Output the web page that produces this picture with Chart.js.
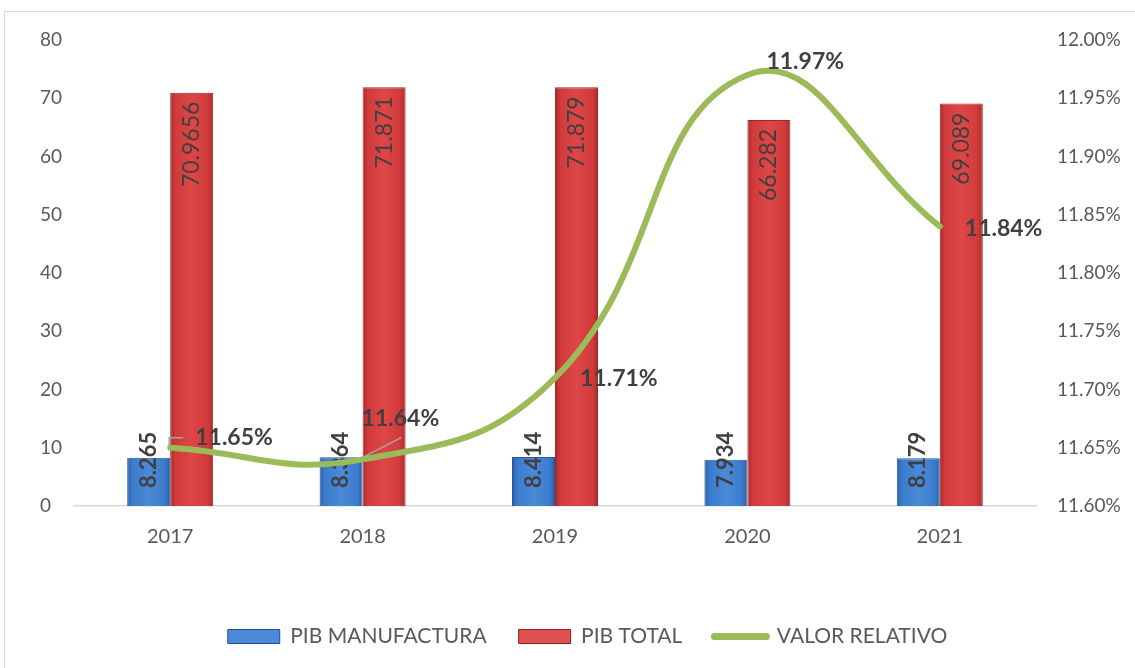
<!DOCTYPE html>
<html>
<head>
<meta charset="utf-8">
<script src="https://cdn.jsdelivr.net/npm/chart.js@4.4.0/dist/chart.umd.min.js"></script>
<style>
  html, body { margin: 0; padding: 0; background: #fff; }
  #frame { position: absolute; left: 4px; top: 11px; width: 1140px; height: 670px; border: 1px solid #d9d9d9; }
  #wrap { position: absolute; left: 0; top: 0; width: 1135px; height: 668px; }
</style>
</head>
<body>
<div id="frame"></div>
<div id="wrap"><canvas id="chart"></canvas></div>
<script>
// Data
const years = ['2017', '2018', '2019', '2020', '2021'];
const pibManufactura = [8.265, 8.364, 8.414, 7.934, 8.179];
const pibTotal = [70.9656, 71.871, 71.879, 66.282, 69.089];
const valorRelativo = [11.65, 11.64, 11.71, 11.97, 11.84];
const seriesNames = ['PIB MANUFACTURA', 'PIB TOTAL', 'VALOR RELATIVO'];

const FONT = 'Lato, "Noto Sans", sans-serif';
const TEXT = '#595959';
const LABEL = '#404040';

// label offsets for the percentage labels (relative to the point)
const lineLabelOffsets = [[25, -10], [-1, -41], [25, 1], [19, -13], [25, 2]];
const leaderLines = { 0: [[-1, -2], [-1, -10], [13, -10]], 1: [[0, -2], [39, -22]] };

// two bars side by side, no gap between them
const CAT_PCT = 0.447;
const BAR_PCT = 1.0;

/**
 * Horizontal gradient for a bar, dark edges and lighter middle
 */
function barFill(edge, mid, centre, fallback) {
  return function(context) {
    const chart = context.chart;
    const xs = chart.scales.x;
    if (!chart.chartArea || !xs || context.dataIndex === undefined) return fallback;
    const c = xs.getPixelForValue(context.dataIndex);
    const cat = xs.getPixelForValue(1) - xs.getPixelForValue(0);
    const w = cat * CAT_PCT / 2;
    const x0 = context.datasetIndex === 0 ? c - w : c;
    const g = chart.ctx.createLinearGradient(x0, 0, x0 + w, 0);
    g.addColorStop(0, edge);
    g.addColorStop(0.12, mid);
    g.addColorStop(0.5, centre);
    g.addColorStop(0.88, mid);
    g.addColorStop(1, edge);
    return g;
  };
}

const legendStyles = [
  { fillStyle: '#4a8ad8', strokeStyle: '#24508f', lineWidth: 1, pointStyle: 'rect' },
  { fillStyle: '#e05252', strokeStyle: '#8e2222', lineWidth: 1, pointStyle: 'rect' },
  { fillStyle: '#9bbb59', strokeStyle: '#9bbb59', lineWidth: 7, pointStyle: 'line', lineCap: 'round' }
];

const valueLabels = {
  id: 'valueLabels',
  afterDatasetDraw(chart, args) {
    const meta = args.meta;
    if (meta.type !== 'bar') return;
    const ctx = chart.ctx;
    const data = chart.data.datasets[args.index].data;
    ctx.save();
    ctx.fillStyle = LABEL;
    meta.data.forEach((bar, i) => {
      ctx.save();
      ctx.translate(bar.x, 0);
      ctx.rotate(-Math.PI / 2);
      ctx.textBaseline = 'middle';
      if (args.index === 0) {
        ctx.font = 'bold 22px ' + FONT;
        ctx.textAlign = 'left';
        ctx.fillText(String(data[i]), -(bar.base - 18), 0);
      } else {
        ctx.font = '23px ' + FONT;
        ctx.textAlign = 'right';
        ctx.fillText(String(data[i]), -(bar.y + 9), 0);
      }
      ctx.restore();
    });
    ctx.restore();
  },
  afterDatasetsDraw(chart) {
    const ctx = chart.ctx;
    const meta = chart.getDatasetMeta(2);
    ctx.save();
    meta.data.forEach((pt, i) => {
      const lead = leaderLines[i];
      if (lead) {
        ctx.strokeStyle = '#a6a6a6';
        ctx.lineWidth = 1.5;
        ctx.beginPath();
        lead.forEach((p, k) => {
          if (k === 0) ctx.moveTo(pt.x + p[0], pt.y + p[1]);
          else ctx.lineTo(pt.x + p[0], pt.y + p[1]);
        });
        ctx.stroke();
      }
      const off = lineLabelOffsets[i];
      ctx.font = 'bold 23px ' + FONT;
      ctx.fillStyle = LABEL;
      ctx.textAlign = 'left';
      ctx.textBaseline = 'middle';
      ctx.fillText(valorRelativo[i].toFixed(2) + '%', pt.x + off[0], pt.y + off[1]);
    });
    ctx.restore();
  }
};

new Chart(document.getElementById('chart'), {
  data: {
    labels: years,
    datasets: [
      {
        type: 'bar',
        label: seriesNames[0],
        data: pibManufactura,
        yAxisID: 'y',
        order: 1,
        backgroundColor: barFill('#2b5fa8', '#3b7bcc', '#4a8ad8', '#3f7fd0'),
        borderColor: '#2a5594',
        borderWidth: 1,
        categoryPercentage: CAT_PCT,
        barPercentage: BAR_PCT
      },
      {
        type: 'bar',
        label: seriesNames[1],
        data: pibTotal,
        yAxisID: 'y',
        order: 1,
        backgroundColor: barFill('#a82a2a', '#d03a3a', '#df4747', '#d63e3e'),
        borderColor: '#9a2a2a',
        borderWidth: 1,
        categoryPercentage: CAT_PCT,
        barPercentage: BAR_PCT
      },
      {
        type: 'line',
        label: seriesNames[2],
        data: valorRelativo,
        yAxisID: 'y1',
        order: 0,
        borderColor: '#9bbb59',
        borderWidth: 6,
        borderCapStyle: 'round',
        tension: 0.45,
        pointRadius: 0,
        pointStyle: 'line',
        fill: false
      }
    ]
  },
  options: {
    responsive: true,
    maintainAspectRatio: false,
    animation: false,
    layout: { padding: { left: 40, right: 0, top: 40, bottom: 11 } },
    scales: {
      x: {
        grid: { display: false, drawTicks: false },
        border: { display: true, color: '#d9d9d9', width: 1.5 },
        ticks: { color: TEXT, font: { family: FONT, size: 20 }, padding: 19 },
        afterFit: function(scale) { scale.height = 88; }
      },
      y: {
        position: 'left',
        min: 0,
        max: 80,
        grid: { display: false, drawTicks: false },
        border: { display: false },
        ticks: { stepSize: 10, color: TEXT, font: { family: FONT, size: 19 }, crossAlign: 'far' },
        afterFit: function(scale) { scale.width = 34; }
      },
      y1: {
        position: 'right',
        min: 11.6,
        max: 12.0,
        grid: { display: false, drawTicks: false },
        border: { display: false },
        ticks: {
          stepSize: 0.05,
          color: TEXT,
          font: { family: FONT, size: 19 },
          padding: 21,
          callback: function(value) { return value.toFixed(2) + '%'; }
        },
        afterFit: function(scale) { scale.width = 99; }
      }
    },
    plugins: {
      tooltip: { enabled: false },
      legend: {
        position: 'bottom',
        labels: {
          usePointStyle: true,
          pointStyleWidth: 52,
          boxHeight: 14,
          color: TEXT,
          font: { family: FONT, size: 21 },
          padding: 32,
          generateLabels: function(chart) {
            const items = Chart.defaults.plugins.legend.labels.generateLabels(chart);
            items.sort((a, b) => a.datasetIndex - b.datasetIndex);
            items.forEach(item => Object.assign(item, legendStyles[item.datasetIndex]));
            return items;
          }
        }
      }
    }
  },
  plugins: [valueLabels]
});
</script>
</body>
</html>
